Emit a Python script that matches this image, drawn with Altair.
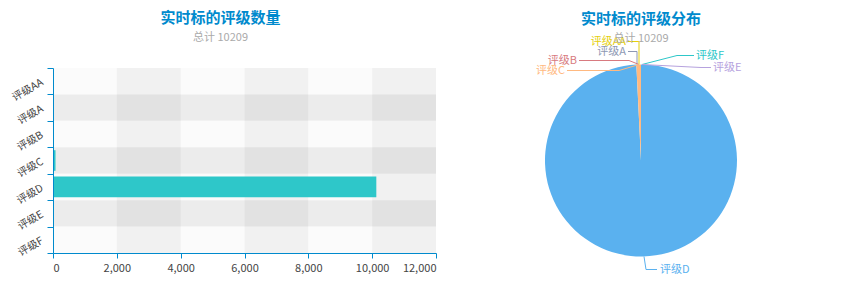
import altair as alt
import pandas as pd

# ---- data ----
grades = ["评级AA", "评级A", "评级B", "评级C", "评级D", "评级E", "评级F"]
counts = [0, 0, 0, 79, 10130, 0, 0]
pie_order = ["评级F", "评级E", "评级D", "评级C", "评级B", "评级A", "评级AA"]
pie_colors = ["#2ec7c9", "#b6a2de", "#5ab1ef", "#ffb980", "#d87a80", "#8d98b3", "#e5cf0d"]
x_ticks = [0, 2000, 4000, 6000, 8000, 10000, 12000]
total = sum(counts)

FONT = "Noto Sans CJK SC"
TITLE_BLUE = "#008acd"
BAND_LIGHT = "rgb(250,250,250)"
BAND_DARK = "rgb(200,200,200)"

W_BAR, H = 383, 185
W_PIE = 340
R = 96

df = pd.DataFrame({"grade": grades, "count": counts})

# ---- bar chart ----
xb = pd.DataFrame({
    "x0": x_ticks[:-1],
    "x1": x_ticks[1:],
    "fill": [BAND_LIGHT if i % 2 == 0 else BAND_DARK for i in range(len(x_ticks) - 1)],
})
yb = pd.DataFrame({
    "grade": grades,
    "fill": [BAND_LIGHT if i % 2 == 0 else BAND_DARK for i in range(len(grades))],
})

xscale = alt.Scale(domain=[x_ticks[0], x_ticks[-1]], nice=False)
yscale = alt.Scale(domain=grades, paddingInner=0, paddingOuter=0)

x_axis = alt.Axis(values=x_ticks, format=",.0f", grid=False,
                  domainColor=TITLE_BLUE, tickColor=TITLE_BLUE,
                  labelColor="#444", labelFontSize=11, labelFont=FONT,
                  tickSize=5, labelPadding=4)
y_axis = alt.Axis(grid=False, tickBand="extent", labelAngle=330,
                  domainColor=TITLE_BLUE, tickColor=TITLE_BLUE,
                  labelColor="#444", labelFontSize=10.5, labelFont=FONT,
                  labelAlign="right", labelBaseline="middle",
                  tickSize=6, labelPadding=5)

xband_layer = alt.Chart(xb).mark_rect(opacity=0.3).encode(
    x=alt.X("x0:Q", scale=xscale, title=None, axis=x_axis),
    x2="x1:Q",
    y=alt.value(0),
    y2=alt.value(H),
    color=alt.Color("fill:N", scale=None),
)
yband_layer = alt.Chart(yb).mark_rect(opacity=0.3).encode(
    y=alt.Y("grade:N", scale=yscale, title=None, axis=y_axis),
    x=alt.value(0),
    x2=alt.value(W_BAR),
    color=alt.Color("fill:N", scale=None),
)
bar_layer = alt.Chart(df).mark_bar(color="#2ec7c9", height=alt.RelativeBandSize(0.78)).encode(
    x=alt.X("count:Q", scale=xscale, title=None, axis=x_axis),
    y=alt.Y("grade:N", scale=yscale, title=None, axis=y_axis),
)

bar_chart = alt.layer(xband_layer, yband_layer, bar_layer).properties(
    width=W_BAR, height=H,
    title=alt.TitleParams("实时标的评级数量", subtitle=f"总计 {total}",
                          color=TITLE_BLUE, fontSize=15, fontWeight="bold", font=FONT,
                          subtitleColor="#aaaaaa", subtitleFontSize=11, subtitleFont=FONT,
                          subtitlePadding=6, anchor="middle", dx=-24, offset=21),
)

# ---- pie chart ----
pie_df = pd.DataFrame({"grade": pie_order})
pie_df["count"] = [counts[grades.index(g)] for g in pie_order]
pie_df["idx"] = range(len(pie_order))

color_scale = alt.Scale(domain=pie_order, range=pie_colors)

arc_layer = alt.Chart(pie_df).mark_arc(radius=R).encode(
    theta=alt.Theta("count:Q", stack=True),
    order=alt.Order("idx:Q"),
    color=alt.Color("grade:N", scale=color_scale, legend=None),
)

# label layout (offsets from the pie centre, px): leader polyline + text anchor
label_layout = {
    "评级AA": ([(-2, -R), (-2, -119), (-13, -119)], (-15, -119), "right"),
    "评级A": ([(-4, -R), (-4, -109), (-13, -109)], (-15, -109), "right"),
    "评级B": ([(-2, -R), (-12, -100), (-62, -100)], (-64, -100), "right"),
    "评级C": ([(-2, -R), (-22, -90), (-74, -90)], (-76, -90), "right"),
    "评级F": ([(1, -R), (36, -105), (53, -105)], (55, -105), "left"),
    "评级E": ([(1, -R), (60, -93), (70, -93)], (72, -93), "left"),
    "评级D": ([(3, R), (5, R + 13), (16, R + 13)], (19, R + 13), "left"),
}
cx, cy = W_PIE / 2, H / 2
line_rows, text_rows = [], []
for g, (pts, tpos, al) in label_layout.items():
    for i, (dx, dy) in enumerate(pts):
        line_rows.append({"grade": g, "seq": i, "px": cx + dx, "py": cy + dy})
    text_rows.append({"grade": g, "px": cx + tpos[0], "py": cy + tpos[1], "align": al})
lines_df = pd.DataFrame(line_rows)
text_df = pd.DataFrame(text_rows)

line_layer = alt.Chart(lines_df).mark_line(strokeWidth=1).encode(
    x=alt.X("px:Q", scale=None, axis=None),
    y=alt.Y("py:Q", scale=None, axis=None),
    detail="grade:N",
    order=alt.Order("seq:Q"),
    color=alt.Color("grade:N", scale=color_scale, legend=None),
)
text_right = alt.Chart(text_df[text_df["align"] == "right"]).mark_text(
    align="right", baseline="middle", fontSize=11, font=FONT).encode(
    x=alt.X("px:Q", scale=None, axis=None), y=alt.Y("py:Q", scale=None, axis=None),
    text="grade:N",
    color=alt.Color("grade:N", scale=color_scale, legend=None),
)
text_left = alt.Chart(text_df[text_df["align"] == "left"]).mark_text(
    align="left", baseline="middle", fontSize=11, font=FONT).encode(
    x=alt.X("px:Q", scale=None, axis=None), y=alt.Y("py:Q", scale=None, axis=None),
    text="grade:N",
    color=alt.Color("grade:N", scale=color_scale, legend=None),
)

pie_chart = alt.layer(arc_layer, line_layer, text_right, text_left).properties(
    width=W_PIE, height=H,
    title=alt.TitleParams("实时标的评级分布", subtitle=f"总计 {total}",
                          color=TITLE_BLUE, fontSize=15, fontWeight="bold", font=FONT,
                          subtitleColor="#aaaaaa", subtitleFontSize=11, subtitleFont=FONT,
                          subtitlePadding=6, anchor="middle", offset=-8),
)

chart = alt.hconcat(bar_chart, pie_chart, spacing=34).properties(
    padding={"left": 2, "right": 0, "top": 2, "bottom": 0},
).configure(font=FONT, view=alt.ViewConfig(stroke=None))

chart.save("out.html", embed_options={"renderer": "svg", "actions": False})
